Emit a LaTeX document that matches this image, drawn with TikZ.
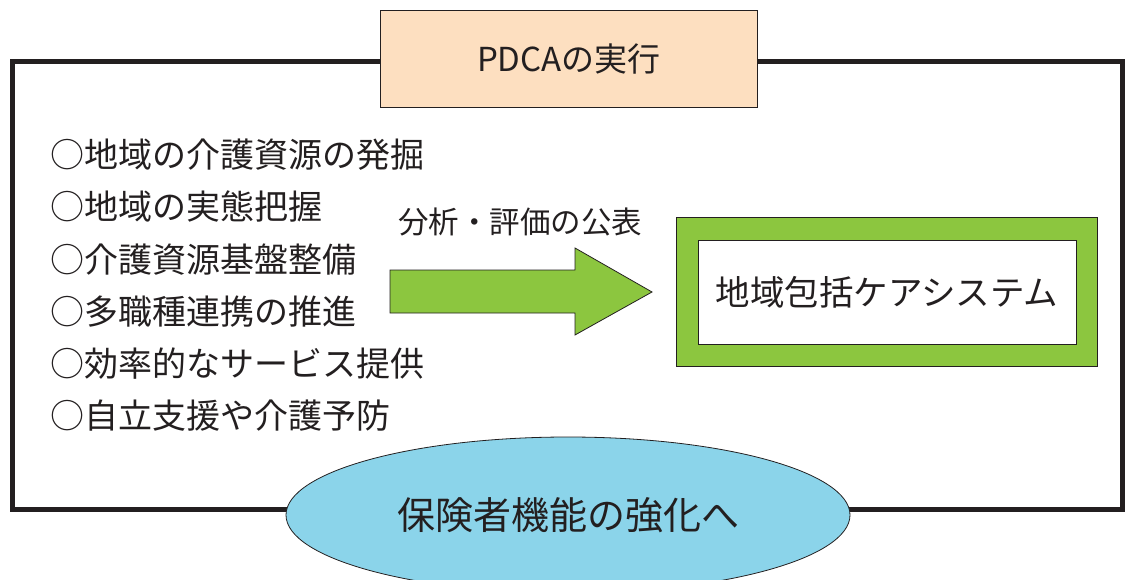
\documentclass[tikz,border=0pt]{standalone}
\usepackage{fontspec}
\setmainfont{Noto Sans CJK JP}
\usetikzlibrary{shapes.geometric}
\definecolor{peach}{HTML}{FDDFC0}
\definecolor{leaf}{HTML}{8CC63F}
\definecolor{sky}{HTML}{8BD4EA}
\definecolor{ink}{HTML}{231F20}
\tikzset{
  frameline/.style={draw=ink,line width=5pt},
  thinline/.style={draw=ink,line width=0.8pt},
  item/.style={anchor=west,inner sep=0pt,font=\fontsize{34pt}{36pt}\selectfont,text=ink},
}
\begin{document}
\begin{tikzpicture}[x=1pt,y=-1pt]
\useasboundingbox (0,0) rectangle (1126,580);
% frame
\draw[frameline] (12,62) rectangle (1122,509);
% title box
\node[thinline,fill=peach,minimum width=377pt,minimum height=97pt,inner sep=0pt,anchor=north west,
  font=\fontsize{33pt}{36pt}\selectfont,text=ink] (title) at (380,10) {PDCAの実行};
% list
\node[item] (i1) at (50,155) {○地域の介護資源の発掘};
\node[item] (i2) at (50,207) {○地域の実態把握};
\node[item] (i3) at (50,260) {○介護資源基盤整備};
\node[item] (i4) at (50,312) {○多職種連携の推進};
\node[item] (i5) at (50,364) {○効率的なサービス提供};
\node[item] (i6) at (50,416) {○自立支援や介護予防};
% label
\node[inner sep=0pt,font=\fontsize{30.5pt}{32pt}\selectfont,text=ink] (lbl) at (520,222) {分析・評価の公表};
% arrow
\draw[thinline,fill=leaf] (390,270) -- (575,270) -- (575,248) -- (652,292) -- (575,335) -- (575,313) -- (390,313) -- cycle;
% system box
\node[thinline,fill=leaf,minimum width=421pt,minimum height=149pt,anchor=north west,inner sep=0pt] (outer) at (676,217) {};
\node[thinline,fill=white,minimum width=378pt,minimum height=104pt,inner sep=0pt,
  font=\fontsize{34.5pt}{36pt}\selectfont,text=ink] (sys) at (outer.center) {地域包括ケアシステム};
% ellipse
\node[ellipse,thinline,fill=sky,minimum width=564pt,minimum height=156pt,inner sep=0pt,
  font=\fontsize{38pt}{40pt}\selectfont,text=ink] (goal) at (568,515) {保険者機能の強化へ};
\end{tikzpicture}
\end{document}
